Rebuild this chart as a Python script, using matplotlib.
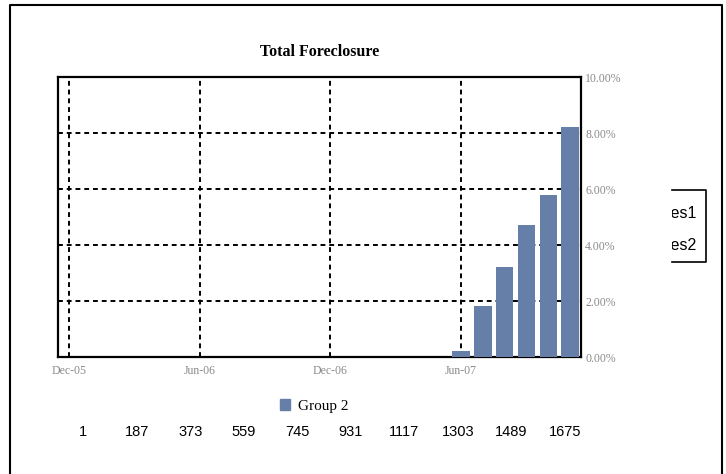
import matplotlib
matplotlib.use('Agg')
import matplotlib.pyplot as plt
from matplotlib.patches import Patch
from matplotlib.lines import Line2D
from matplotlib.transforms import Bbox, TransformedBbox

# months are counted from Dec-05 (index 0)
bar_months = [18, 19, 20, 21, 22, 23]          # Jun-07 .. Nov-07
bar_values = [0.22, 1.83, 3.23, 4.73, 5.80, 8.20]  # percent

tick_months = [0, 6, 12, 18]
tick_labels = ['Dec-05', 'Jun-06', 'Dec-06', 'Jun-07']
y_ticks = [0, 2, 4, 6, 8, 10]

count_values = [1, 187, 373, 559, 745, 931, 1117, 1303, 1489, 1675]
hidden_series = ['Series1', 'Series2']

W, H = 726, 474
fig = plt.figure(figsize=(W / 100, H / 100), dpi=100)


def fx(px):
    return px / W


def fy(py):
    return 1 - py / H


bar_color = '#657fa8'
label_gray = '#8a8a8a'
serif = 'Liberation Serif'

# outer frame (bottom edge runs off the picture)
fig.add_artist(Line2D([fx(10), fx(10), fx(722), fx(722)], [0, fy(5), fy(5), 0],
                      color='black', lw=1.5, transform=fig.transFigure))

ax = fig.add_axes([fx(58), fy(357), fx(581 - 58), (357 - 77) / H])
ax.bar(bar_months, bar_values, width=0.8, color=bar_color, zorder=3)
ax.set_xlim(-0.5, 23.5)
ax.set_ylim(0, 10)
ax.set_xticks(tick_months)
ax.set_xticklabels(tick_labels, fontfamily=serif, fontsize=8.5, color=label_gray)
ax.set_yticks(y_ticks)
ax.set_yticklabels(['%.2f%%' % v for v in y_ticks], fontfamily=serif,
                   fontsize=8.5, color=label_gray)
ax.tick_params(axis='x', length=0, pad=6)
ax.tick_params(axis='y', left=True, right=False, labelleft=False, labelright=True,
               direction='in', length=3, width=1.2, pad=3)
for s in ax.spines.values():
    s.set_linewidth(1.6)
    s.set_color('black')

for v in y_ticks[1:-1]:
    ax.axhline(v, color='black', lw=1.4, dashes=(2.5, 2), zorder=1)
for m in tick_months:
    ax.axvline(m, color='black', lw=1.4, dashes=(2.5, 2), zorder=1)

ax.set_title('Total Foreclosure', fontfamily=serif, fontweight='bold',
             fontsize=11.5, pad=15)

fig.legend(handles=[Patch(color=bar_color, label='Group 2')], loc='center',
           bbox_to_anchor=(fx(314), fy(406)), frameon=False,
           prop={'family': serif, 'size': 11}, handlelength=0.7,
           handleheight=0.7, handletextpad=0.5)

# stray category axis under the legend
ax_num = fig.add_axes([fx(83), fy(425), fx(482), 0.001])
ax_num.set_xlim(0, 1675)
ax_num.set_xticks(count_values)
ax_num.set_xticklabels([str(v) for v in count_values], fontfamily='Liberation Sans',
                       fontsize=10.5)
ax_num.tick_params(axis='x', length=0, pad=0)
ax_num.set_yticks([])
for s in ax_num.spines.values():
    s.set_visible(False)
ax_num.patch.set_visible(False)

# legend box partly hidden behind the chart area
clip = TransformedBbox(Bbox([[fx(672), fy(262)], [fx(706), fy(190)]]), fig.transFigure)
for i, name in enumerate(hidden_series):
    t = fig.text(fx(697), fy(213 + i * 33), name, ha='right', va='center',
                 fontfamily='Liberation Sans', fontsize=11.5)
    t.set_clip_box(clip)
fig.add_artist(Line2D([fx(672), fx(706), fx(706), fx(672)],
                      [fy(190), fy(190), fy(262), fy(262)],
                      color='black', lw=1.2, transform=fig.transFigure))

fig.savefig('out.png', dpi=100)
